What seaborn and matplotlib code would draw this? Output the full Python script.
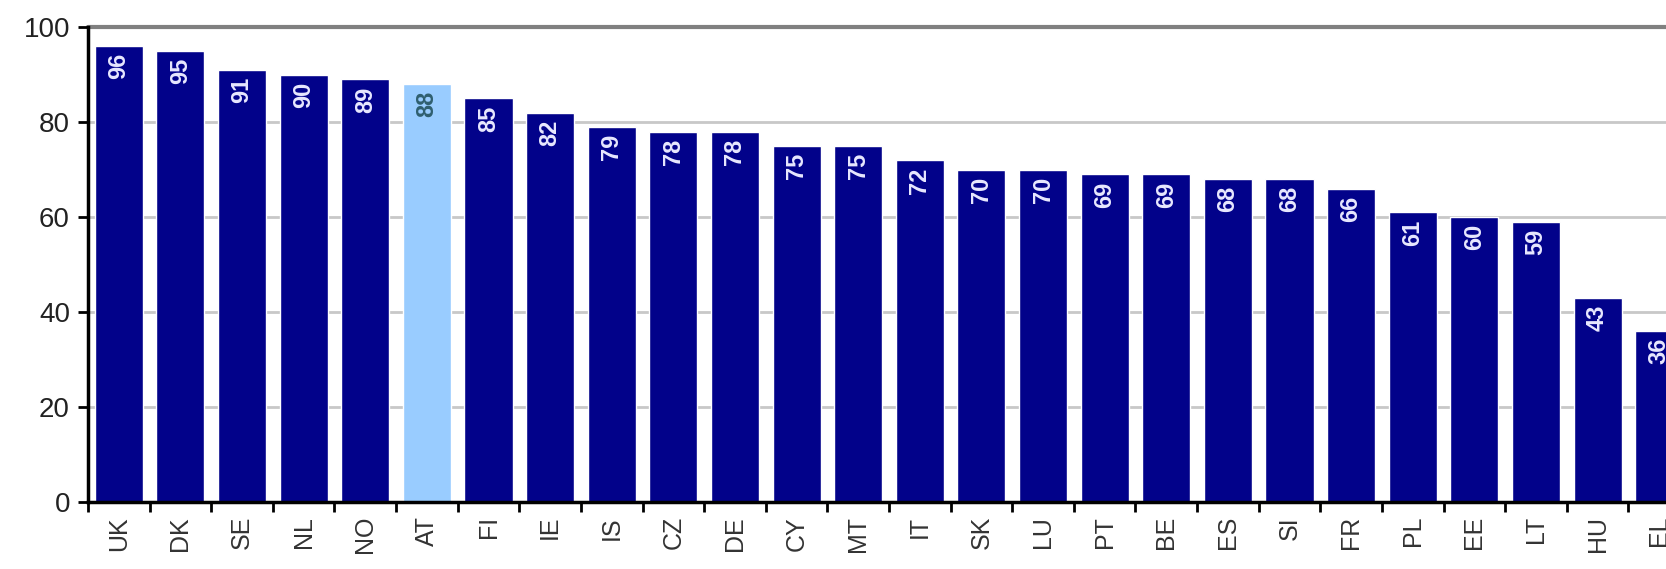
import seaborn as sns
import matplotlib.pyplot as plt
import numpy as np

# データ
countries = ["UK", "DK", "SE", "NL", "NO", "AT", "FI", "IE", "IS", "CZ", "DE", "CY", "MT",
             "IT", "SK", "LU", "PT", "BE", "ES", "SI", "FR", "PL", "EE", "LT", "HU", "EL"]
values = [96, 95, 91, 90, 89, 88, 85, 82, 79, 78, 78, 75, 75,
          72, 70, 70, 69, 69, 68, 68, 66, 61, 60, 59, 43, 36]
highlight = "AT"
y_ticks = [0, 20, 40, 60, 80, 100]

navy = "#02028a"
light = "#99ccff"
palette = {c: (light if c == highlight else navy) for c in countries}

sns.set_style("white")
plt.rcParams['font.family'] = ['Liberation Sans', 'DejaVu Sans']

fig = plt.figure(figsize=(16.66, 5.69), dpi=100)
# 右端は図の外まではみ出す（元画像で EL が切れている）
ax = fig.add_axes([88 / 1666, 1 - 502 / 569, 1602 / 1666, 475 / 569])

sns.barplot(x=countries, y=values, hue=countries, palette=palette, legend=False,
            width=0.78, saturation=1, ax=ax)

ax.set_ylim(0, 100)
ax.set_xlim(-0.5, len(countries) - 0.5)

# グリッド線
for y in y_ticks[1:-1]:
    ax.axhline(y, color="#c8c8c8", lw=2, zorder=0)
ax.axhline(100, color="#808080", lw=3, zorder=0, clip_on=False)

# 値ラベル
for i, (c, v) in enumerate(zip(countries, values)):
    col = "#2f5f6f" if c == highlight else "#e8e8ff"
    ax.text(i, v - 1.5, str(v), rotation=90, ha="center", va="top",
            color=col, fontsize=17, fontweight="bold")

ax.set_yticks(y_ticks)
ax.set_yticklabels([str(t) for t in y_ticks], fontsize=20, color="#222222")
ax.tick_params(axis="y", length=7, width=2, color="black", direction="out", pad=6, left=True)

ax.set_xticks(range(len(countries)))
ax.set_xticklabels(countries, rotation=90, fontsize=18, color="#333333")
ax.tick_params(axis="x", which="major", length=0, pad=10)
ax.set_xticks(np.arange(len(countries)) - 0.5, minor=True)
ax.tick_params(axis="x", which="minor", length=7, width=2, color="black", direction="out", bottom=True)

for s in ["top", "right"]:
    ax.spines[s].set_visible(False)
ax.spines["left"].set_linewidth(2.5)
ax.spines["left"].set_color("black")
ax.spines["bottom"].set_linewidth(2.5)
ax.spines["bottom"].set_color("black")
ax.set_xlabel("")
ax.set_ylabel("")

fig.savefig("out.png", dpi=100)
